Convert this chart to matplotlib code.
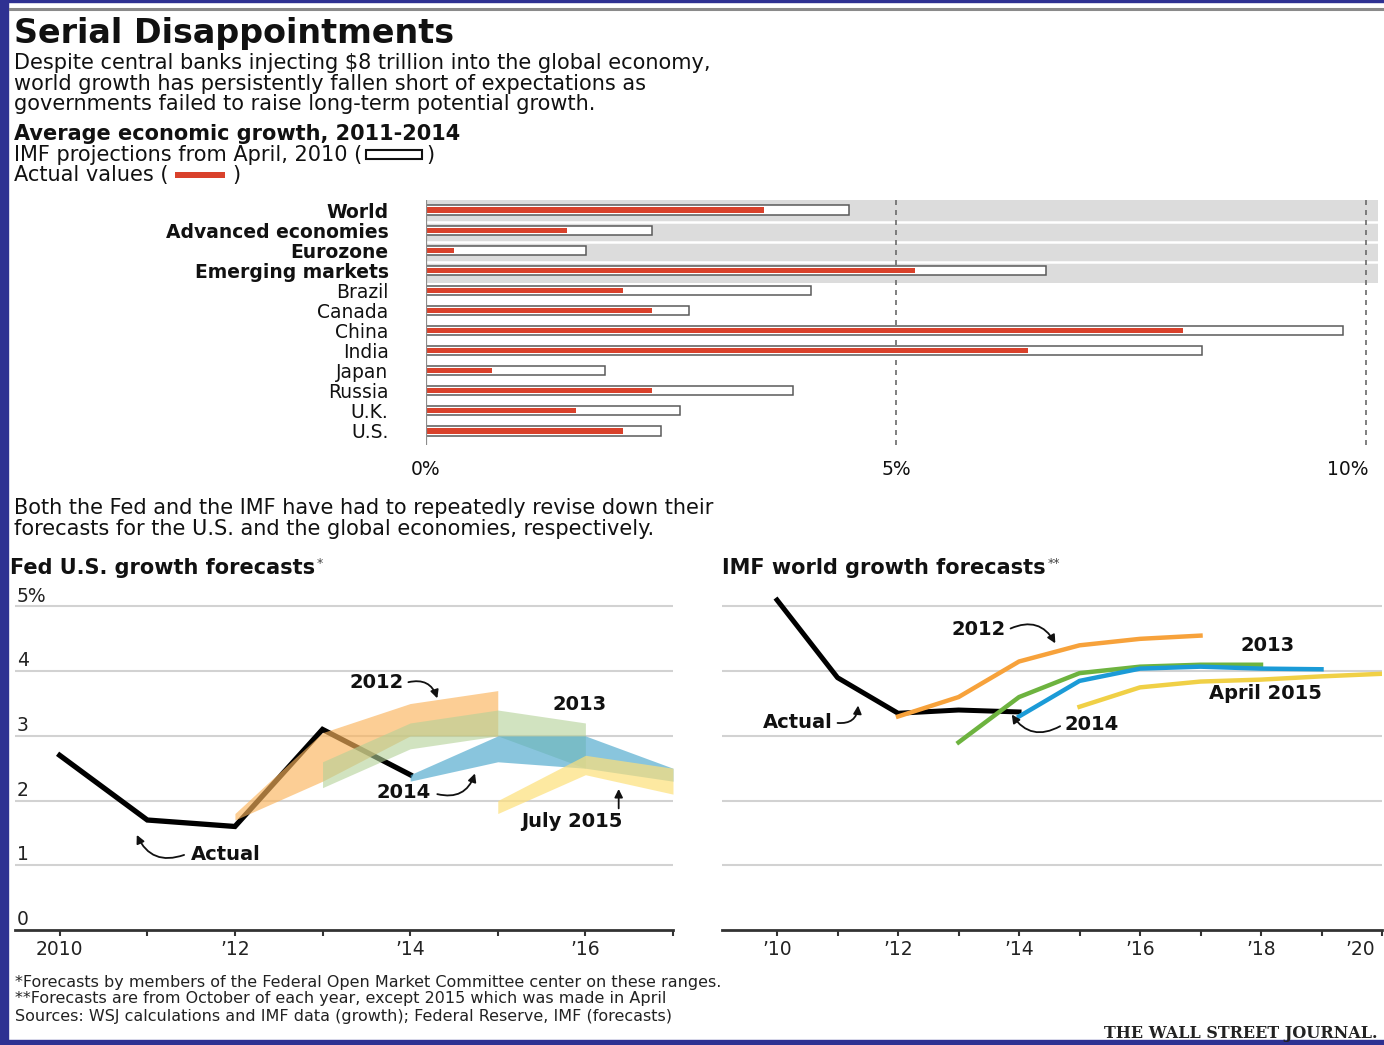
import matplotlib
matplotlib.use("Agg")
import matplotlib.pyplot as plt
from matplotlib.patches import Rectangle
from matplotlib.transforms import ScaledTranslation, blended_transform_factory
from matplotlib.lines import Line2D

W, H = 1384, 1045
plt.rcParams['font.family'] = ['DejaVu Sans']

# ---------------- data ----------------
categories = ["World", "Advanced economies", "Eurozone", "Emerging markets",
              "Brazil", "Canada", "China", "India", "Japan", "Russia", "U.K.", "U.S."]
bold_rows = 4
imf_projection_2010 = [4.5, 2.4, 1.7, 6.6, 4.1, 2.8, 9.75, 8.25, 1.9, 3.9, 2.7, 2.5]
actual_growth = [3.6, 1.5, 0.3, 5.2, 2.1, 2.4, 8.05, 6.4, 0.7, 2.4, 1.6, 2.1]
bar_ticks = [0, 5, 10]
bar_tick_labels = ["0%", "5%", "10%"]

fed_years = [2010, 2011, 2012, 2013, 2014]
fed_actual = [2.7, 1.7, 1.6, 3.1, 2.4]
fed_2012_years = [2012, 2013, 2014, 2015]
fed_2012_low = [1.7, 2.3, 3.0, 3.0]
fed_2012_high = [1.8, 3.05, 3.5, 3.7]
fed_2013_years = [2013, 2014, 2015, 2016]
fed_2013_low = [2.2, 2.8, 3.0, 2.5]
fed_2013_high = [2.6, 3.2, 3.4, 3.2]
fed_2014_years = [2014, 2015, 2016, 2017]
fed_2014_low = [2.3, 2.6, 2.5, 2.3]
fed_2014_high = [2.4, 3.0, 3.0, 2.5]
fed_jul2015_years = [2015, 2016, 2017]
fed_jul2015_low = [1.8, 2.4, 2.1]
fed_jul2015_high = [2.0, 2.7, 2.5]
fed_yticks = [0, 1, 2, 3, 4, 5]
fed_ytick_labels = ["0", "1", "2", "3", "4", "5%"]
fed_xticks = [2010, 2011, 2012, 2013, 2014, 2015, 2016, 2017]
fed_xtick_labels = ["2010", "", "\u201912", "", "\u201914", "", "\u201916", ""]

imf_actual_years = [2010, 2011, 2012, 2013, 2014]
imf_actual = [5.1, 3.9, 3.35, 3.4, 3.37]
imf_2012_years = [2012, 2013, 2014, 2015, 2016, 2017]
imf_2012 = [3.3, 3.6, 4.15, 4.4, 4.5, 4.55]
imf_2013_years = [2013, 2014, 2015, 2016, 2017, 2018]
imf_2013 = [2.9, 3.6, 3.97, 4.07, 4.1, 4.1]
imf_2014_years = [2014, 2015, 2016, 2017, 2018, 2019]
imf_2014 = [3.3, 3.85, 4.04, 4.07, 4.04, 4.03]
imf_apr2015_years = [2015, 2016, 2017, 2018, 2019, 2020]
imf_apr2015 = [3.45, 3.75, 3.84, 3.87, 3.92, 3.96]
imf_xticks = list(range(2010, 2021))
imf_xtick_labels = ["\u201910", "", "\u201912", "", "\u201914", "", "\u201916", "",
                    "\u201918", "", "\u201920"]

# ---------------- figure ----------------
fig = plt.figure(figsize=(W / 100, H / 100), dpi=100)
fig.patch.set_facecolor("white")


def fx(px):
    return px / W


def fy(py):
    return 1 - py / H


def px_axes(left, top, right, bottom):
    return fig.add_axes([fx(left), fy(bottom), (right - left) / W, (bottom - top) / H])


# blue frame
BLUE = "#2e3192"
fig.patches.append(Rectangle((0, 0), fx(8), 1, transform=fig.transFigure, color=BLUE, zorder=0))
fig.patches.append(Rectangle((0, 0), 1, 5 / H, transform=fig.transFigure, color=BLUE, zorder=0))
fig.patches.append(Rectangle((0, fy(1.5)), 1, 1.5 / H, transform=fig.transFigure, color=BLUE, zorder=0))
fig.lines.append(Line2D([fx(10), fx(1382)], [fy(9), fy(9)], transform=fig.transFigure,
                        color="#8a8a8a", lw=2.2))

TXT = "#111111"
SUB = 15
# header texts
fig.text(fx(14), fy(34), "Serial Disappointments", fontsize=24, fontweight="bold",
         va="center", ha="left", color=TXT)
sub = ["Despite central banks injecting $8 trillion into the global economy,",
       "world growth has persistently fallen short of expectations as",
       "governments failed to raise long-term potential growth."]
for s, y in zip(sub, [63, 84, 104]):
    fig.text(fx(14), fy(y), s, fontsize=SUB, va="center", ha="left", color=TXT)
fig.text(fx(14), fy(134), "Average economic growth, 2011-2014", fontsize=SUB,
         fontweight="bold", va="center", ha="left", color=TXT)
t1 = fig.text(fx(14), fy(155), "IMF projections from April, 2010 (", fontsize=SUB,
              va="center", ha="left", color=TXT)
t2 = fig.text(fx(14), fy(175), "Actual values (", fontsize=SUB, va="center", ha="left", color=TXT)

renderer = fig.canvas.get_renderer()
e1 = t1.get_window_extent(renderer)
bx = e1.x1 + 4
fig.patches.append(Rectangle((fx(bx), fy(159)), 56 / W, 9 / H, transform=fig.transFigure,
                             facecolor="white", edgecolor="#111111", lw=1.5))
fig.text(fx(bx + 60), fy(155), ")", fontsize=SUB, va="center", ha="left", color=TXT)
e2 = t2.get_window_extent(renderer)
rx = e2.x1 + 6
fig.patches.append(Rectangle((fx(rx), fy(178)), 50 / W, 6 / H, transform=fig.transFigure,
                             facecolor="#d9412b", edgecolor="none"))
fig.text(fx(rx + 58), fy(175), ")", fontsize=SUB, va="center", ha="left", color=TXT)

# ---------------- bar chart ----------------
axb = px_axes(426, 200, 1378, 445)
n = len(categories)
xmax = (1378 - 426) / 94.0
axb.set_xlim(0, xmax)
axb.set_ylim(11.7, -0.5)
axb.axhspan(-0.5, 3.62, color="#dcdcdc", lw=0, zorder=0)
for yy in [0.6, 1.6, 2.6]:
    axb.axhline(yy, color="white", lw=1.8, zorder=0.5)
ypos = list(range(n))
axb.barh(ypos, imf_projection_2010, height=0.46, color="white", edgecolor="#5a5a5a",
         lw=1.1, zorder=2)
axb.barh(ypos, actual_growth, height=0.26, color="#d9412b", lw=0, zorder=3)
axb.axvline(0, color="#8c8c8c", lw=1.6, zorder=4)
for v in [5, 10]:
    axb.axvline(v, color="#6a6a6a", lw=1.2, ls=(0, (3, 3)), zorder=1)
for sp in axb.spines.values():
    sp.set_visible(False)
axb.set_yticks(ypos)
axb.set_yticklabels(categories)
for i, lab in enumerate(axb.get_yticklabels()):
    if i < bold_rows:
        lab.set_fontweight("bold")
axb.tick_params(axis="y", length=0, pad=27, labelsize=13.5, labelcolor=TXT)
axb.set_xticks(bar_ticks)
axb.set_xticklabels(bar_tick_labels)
axb.tick_params(axis="x", length=0, pad=11, labelsize=13.5, labelcolor=TXT)
last = axb.get_xticklabels()[-1]
last.set_transform(last.get_transform() + ScaledTranslation(-18 / 100, 0, fig.dpi_scale_trans))

# middle text
fig.text(fx(14), fy(508), "Both the Fed and the IMF have had to repeatedly revise down their",
         fontsize=SUB, va="center", ha="left", color=TXT)
fig.text(fx(14), fy(529), "forecasts for the U.S. and the global economies, respectively.",
         fontsize=SUB, va="center", ha="left", color=TXT)

ft1 = fig.text(fx(10), fy(568), "Fed U.S. growth forecasts", fontsize=15, fontweight="bold",
               va="center", ha="left", color=TXT)
ft2 = fig.text(fx(722), fy(568), "IMF world growth forecasts", fontsize=15, fontweight="bold",
               va="center", ha="left", color=TXT)
ea = ft1.get_window_extent(renderer)
fig.text(fx(ea.x1 + 2), fy(563), "*", fontsize=9, va="center", ha="left", color="#444444")
eb = ft2.get_window_extent(renderer)
fig.text(fx(eb.x1 + 2), fy(563), "**", fontsize=9, va="center", ha="left", color="#444444")


def style_line_axes(ax, xticks, xlabels):
    for name, sp in ax.spines.items():
        if name == "bottom":
            sp.set_color("#333333")
            sp.set_linewidth(2)
        else:
            sp.set_visible(False)
    ax.set_yticks([])
    for v in [1, 2, 3, 4, 5]:
        ax.axhline(v, color="#d2d2d2", lw=1.5, zorder=0)
    ax.set_xticks(xticks)
    ax.set_xticklabels(xlabels)
    ax.tick_params(axis="x", direction="out", length=4, width=1.5, color="#333333",
                   pad=3, labelsize=13.5, labelcolor="#222222")


AFS = 14
ann_kw = dict(fontsize=AFS, fontweight="bold", color=TXT, va="center", zorder=6)


def arrow(ax, tail, head, rad):
    ax.annotate("", xy=head, xytext=tail,
                arrowprops=dict(arrowstyle="-|>", color="#111111", lw=1.3,
                                connectionstyle="arc3,rad=%s" % rad, mutation_scale=12,
                                shrinkA=0, shrinkB=0), zorder=6)


# ---------------- Fed chart ----------------
axf = px_axes(15, 590, 673, 930)
axf.set_xlim(2009.49, 2017.0)
axf.set_ylim(0, 5.255)
style_line_axes(axf, fed_xticks, fed_xtick_labels)
trf = blended_transform_factory(axf.transAxes, axf.transData)
for v, lab in zip(fed_yticks, fed_ytick_labels):
    axf.text(0.003, v + 0.16, lab, transform=trf, fontsize=13.5, ha="left", va="center",
             color="#222222")
axf.plot(fed_years, fed_actual, color="black", lw=3.8, solid_joinstyle="miter", zorder=2)
axf.fill_between(fed_2012_years, fed_2012_low, fed_2012_high, color="#fbb45c", alpha=0.65,
                 lw=0, zorder=3)
axf.fill_between(fed_2013_years, fed_2013_low, fed_2013_high, color="#b3d197", alpha=0.6,
                 lw=0, zorder=3)
axf.fill_between(fed_2014_years, fed_2014_low, fed_2014_high, color="#4aa7cc", alpha=0.65,
                 lw=0, zorder=3)
axf.fill_between(fed_jul2015_years, fed_jul2015_low, fed_jul2015_high, color="#fde07a",
                 alpha=0.7, lw=0, zorder=3)

axf.text(2013.93, 3.82, "2012", ha="right", **ann_kw)
arrow(axf, (2013.98, 3.83), (2014.31, 3.58), -0.45)
axf.text(2015.93, 3.48, "2013", ha="center", **ann_kw)
axf.text(2014.24, 2.12, "2014", ha="right", **ann_kw)
arrow(axf, (2014.31, 2.10), (2014.74, 2.42), 0.45)
axf.text(2015.84, 1.67, "July 2015", ha="center", **ann_kw)
arrow(axf, (2016.38, 1.88), (2016.38, 2.18), 0)
axf.text(2011.5, 1.16, "Actual", ha="left", **ann_kw)
arrow(axf, (2011.42, 1.16), (2010.88, 1.47), -0.45)

# ---------------- IMF chart ----------------
axi = px_axes(722, 590, 1382, 930)
axi.set_xlim(2009.09, 2020.0)
axi.set_ylim(0, 5.255)
style_line_axes(axi, imf_xticks, imf_xtick_labels)
lastl = axi.get_xticklabels()[-1]
lastl.set_transform(lastl.get_transform() + ScaledTranslation(-22 / 100, 0, fig.dpi_scale_trans))
axi.plot(imf_actual_years, imf_actual, color="black", lw=3.6, zorder=2)
axi.plot(imf_2012_years, imf_2012, color="#f7a23b", lw=3.2, zorder=3)
axi.plot(imf_2013_years, imf_2013, color="#6db33f", lw=3.2, zorder=3)
axi.plot(imf_2014_years, imf_2014, color="#1b9bd7", lw=3.2, zorder=3)
axi.plot(imf_apr2015_years, imf_apr2015, color="#f0d046", lw=3.2, zorder=3)

axi.text(2013.78, 4.65, "2012", ha="right", **ann_kw)
arrow(axi, (2013.86, 4.66), (2014.6, 4.43), -0.45)
axi.text(2018.11, 4.39, "2013", ha="center", **ann_kw)
axi.text(2018.07, 3.66, "April 2015", ha="center", **ann_kw)
axi.text(2010.92, 3.2, "Actual", ha="right", **ann_kw)
arrow(axi, (2011.0, 3.2), (2011.34, 3.47), 0.5)
axi.text(2014.75, 3.17, "2014", ha="left", **ann_kw)
arrow(axi, (2014.68, 3.15), (2013.88, 3.33), -0.45)

# ---------------- footer ----------------
foot = ["*Forecasts by members of the Federal Open Market Committee center on these ranges.",
        "**Forecasts are from October of each year, except 2015 which was made in April",
        "Sources: WSJ calculations and IMF data (growth); Federal Reserve, IMF (forecasts)"]
for s, y in zip(foot, [982, 999, 1017]):
    fig.text(fx(15), fy(y), s, fontsize=11.5, va="center", ha="left", color="#222222")
fig.text(fx(1378), fy(1033), "THE WALL STREET JOURNAL.", fontsize=11.5, fontweight="bold",
         family="DejaVu Serif", va="center", ha="right", color="#222222")

fig.savefig("out.png", dpi=100, facecolor="white")
